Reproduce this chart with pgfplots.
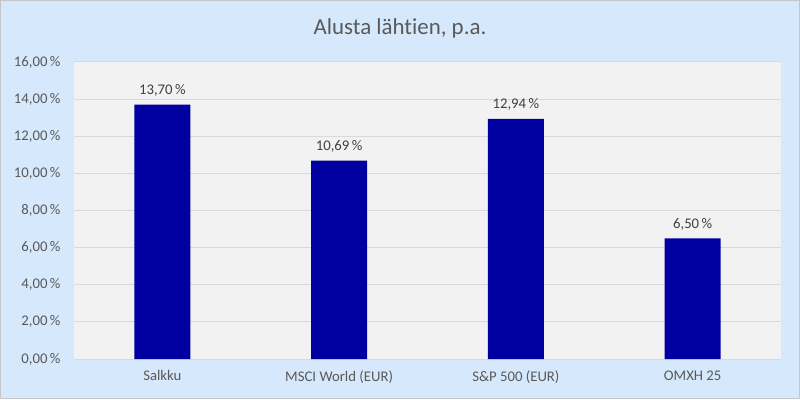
\documentclass[border=0pt]{standalone}
\usepackage{pgfplots}
\pgfplotsset{compat=1.18}
\usepackage{fontspec}
\setmainfont{Carlito}[RawFeature={-liga;-dlig;-clig}]
\definecolor{bgblue}{RGB}{214,233,252}
\definecolor{plotbg}{RGB}{242,242,242}
\definecolor{gridc}{RGB}{217,217,217}
\definecolor{barc}{RGB}{0,0,160}
\definecolor{txt}{RGB}{89,89,89}
\definecolor{lbl}{RGB}{64,64,64}
\begin{document}
\begin{tikzpicture}[x=1bp,y=1bp]
\useasboundingbox (0,0) rectangle (800,399);
\fill[bgblue] (0,0) rectangle (800,399);
\draw[gray!45, line width=1.2bp] (0.6,0.6) rectangle (799.4,398.4);
\node[txt, font=\fontsize{23}{27}\selectfont] at (400,370.5) {Alusta läht\kern0pt ien, p.a.};
\begin{axis}[
  at={(74bp,40bp)}, anchor=south west,
  scale only axis, width=707bp, height=297bp,
  axis background/.style={fill=plotbg},
  ybar, bar width=56bp,
  xmin=-0.5, xmax=3.5, ymin=0, ymax=16,
  xtick=data,
  xticklabels={Salkku, MSCI World (EUR), S\&P 500 (EUR), OMXH 25},
  ytick={0,2,4,6,8,10,12,14,16},
  ymajorgrids, major grid style={gridc, line width=1bp},
  axis line style={draw=none},
  major tick length=0pt,
  /pgf/number format/assume math mode=true,
  yticklabel={\pgfmathprintnumber[fixed,fixed zerofill,precision=2,use comma]{\tick}\,\%},
  ticklabel style={txt, font=\fontsize{14.8}{17}\selectfont},
  yticklabel style={xshift=-10bp},
  xticklabel style={yshift=-8bp},
  nodes near coords={\pgfmathprintnumber[fixed,fixed zerofill,precision=2,use comma]{\pgfplotspointmeta}\,\%},
  nodes near coords style={lbl, font=\fontsize{14.8}{17}\selectfont, anchor=south, yshift=4.5bp},
  clip=false,
]
\addplot[fill=barc, draw=none] coordinates {(0,13.70) (1,10.69) (2,12.94) (3,6.50)};
\end{axis}
\end{tikzpicture}
\end{document}
